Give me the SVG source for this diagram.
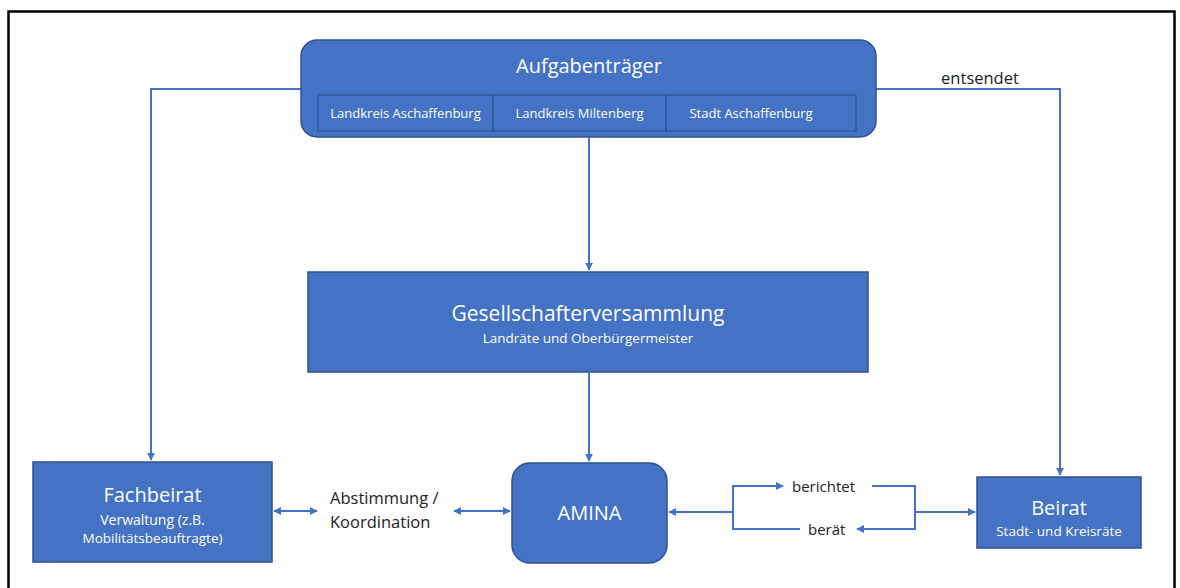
<svg xmlns="http://www.w3.org/2000/svg" width="1180" height="588" viewBox="0 0 1180 588">
<defs>
<style>
.box{fill:#4472C4;stroke:#2F528F;stroke-width:1.5}
.cell{fill:#4472C4;stroke:#2F528F;stroke-width:1.2}
.t{font-family:"Open Sans","Noto Sans","Liberation Sans",sans-serif;fill:#fff;text-anchor:middle}
.lbl{font-family:"Open Sans","Noto Sans","Liberation Sans",sans-serif;fill:#222}
.c{fill:none;stroke:#4472C4;stroke-width:2}
</style>
<marker id="ah" viewBox="0 0 10 10" refX="9" refY="5" markerWidth="4" markerHeight="4" orient="auto-start-reverse" markerUnits="strokeWidth">
<path d="M0,0 L10,5 L0,10 z" fill="#4472C4"/>
</marker>
</defs>
<rect x="0" y="0" width="1180" height="588" fill="#fff"/>
<rect x="8.5" y="11.5" width="1166" height="600" fill="none" stroke="#000" stroke-width="2.5"/>

<g id="connectors">
<polyline class="c" points="301,89 151,89 151,460" marker-end="url(#ah)"/>
<polyline class="c" points="876,89 1060,89 1060,475" marker-end="url(#ah)"/>
<line class="c" x1="589" y1="138" x2="589" y2="270" marker-end="url(#ah)"/>
<line class="c" x1="589" y1="373" x2="589" y2="461" marker-end="url(#ah)"/>
<line class="c" x1="274" y1="511" x2="317" y2="511" marker-start="url(#ah)" marker-end="url(#ah)"/>
<line class="c" x1="454" y1="511" x2="510" y2="511" marker-start="url(#ah)" marker-end="url(#ah)"/>
<line class="c" x1="733" y1="512" x2="669" y2="512" marker-end="url(#ah)"/>
<polyline class="c" points="800,529 733,529 733,486 783,486" marker-end="url(#ah)"/>
<polyline class="c" points="872,486 915,486 915,529 857,529" marker-end="url(#ah)"/>
<line class="c" x1="915" y1="512" x2="975" y2="512" marker-end="url(#ah)"/>
</g>

<g id="labels">
<text class="lbl" x="980" y="84" text-anchor="middle" font-size="16.5">entsendet</text>
<text class="lbl" x="330" y="504" font-size="16.5">Abstimmung /</text>
<text class="lbl" x="330" y="528" font-size="16.5">Koordination</text>
<text class="lbl" x="792" y="492" font-size="15">berichtet</text>
<text class="lbl" x="808" y="535" font-size="15">berät</text>
</g>

<g id="aufgabentraeger">
<rect class="box" x="301" y="40" width="575" height="97" rx="16"/>
<text class="t" x="589" y="73" font-size="20">Aufgabenträger</text>
<rect class="cell" x="318" y="95" width="175" height="36"/>
<rect class="cell" x="493" y="95" width="173" height="36"/>
<rect class="cell" x="666" y="95" width="190" height="36"/>
<text class="t" x="405.5" y="118" font-size="13">Landkreis Aschaffenburg</text>
<text class="t" x="579.5" y="118" font-size="13">Landkreis Miltenberg</text>
<text class="t" x="751" y="118" font-size="13">Stadt Aschaffenburg</text>
</g>

<g id="gesellschafterversammlung">
<rect class="box" x="308" y="272" width="560" height="100"/>
<text class="t" x="588" y="321" font-size="21">Gesellschafterversammlung</text>
<text class="t" x="588" y="343" font-size="13.5">Landräte und Oberbürgermeister</text>
</g>

<g id="amina">
<rect class="box" x="512" y="463" width="155" height="100" rx="18"/>
<text class="t" x="589.5" y="520" font-size="20">AMINA</text>
</g>

<g id="fachbeirat">
<rect class="box" x="33" y="462" width="239" height="100"/>
<text class="t" x="152.5" y="502" font-size="20">Fachbeirat</text>
<text class="t" x="152.5" y="525" font-size="14">Verwaltung (z.B.</text>
<text class="t" x="152.5" y="543" font-size="13.5">Mobilitätsbeauftragte)</text>
</g>

<g id="beirat">
<rect class="box" x="977" y="477" width="164" height="71"/>
<text class="t" x="1059" y="515" font-size="20">Beirat</text>
<text class="t" x="1059" y="536" font-size="13.5">Stadt- und Kreisräte</text>
</g>
</svg>
